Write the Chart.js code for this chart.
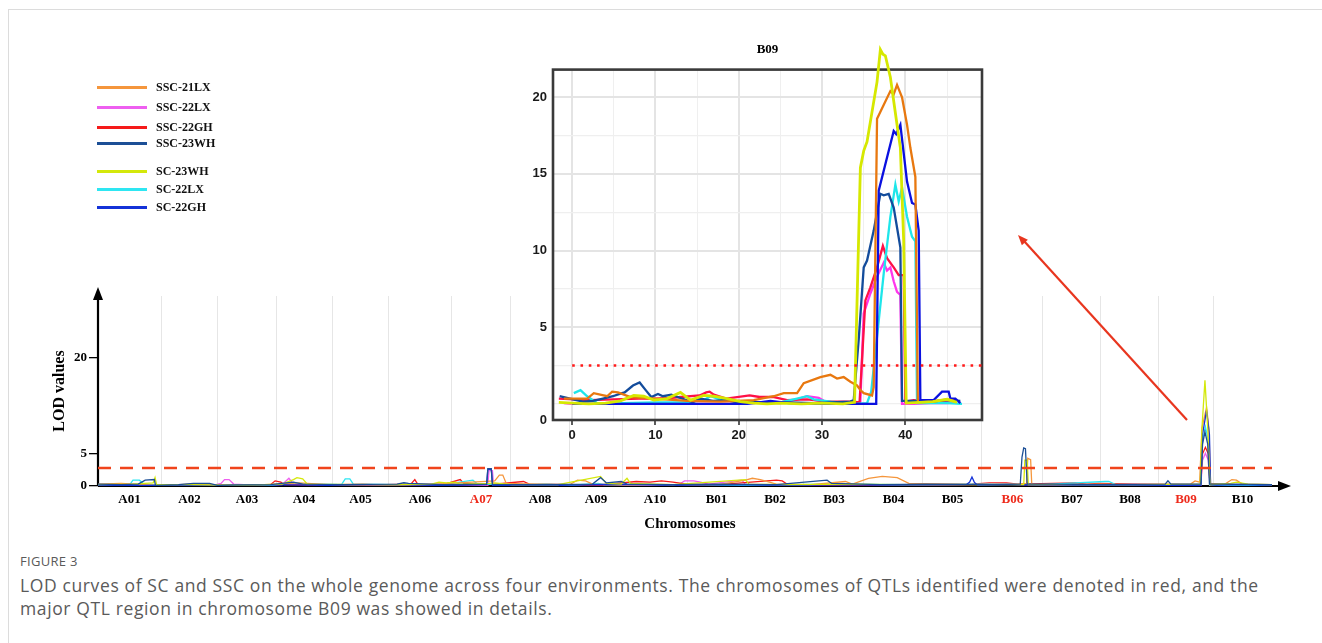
<!DOCTYPE html>
<html>
<head>
<meta charset="utf-8">
<script src="https://cdn.jsdelivr.net/npm/chart.js@4.4.1/dist/chart.umd.min.js"></script>
<style>
  html, body { margin: 0; padding: 0; background: #fff; }
  body { width: 1322px; height: 643px; position: relative; overflow: hidden; }
  #frame { position: absolute; left: 8px; top: 9px; width: 1330px; height: 650px;
           border-top: 1px solid #dcdcdc; border-left: 1px solid #dcdcdc; }
  #mainChart { position: absolute; left: 0; top: 0; }
  #insetChart { position: absolute; left: 520px; top: 30px; }
  #legend { position: absolute; left: 0; top: 0; font: bold 12px "Liberation Serif", "Times New Roman", serif; color: #111; }
  #legend .ln { position: absolute; left: 97px; width: 50px; height: 3px; }
  #legend .tx { position: absolute; left: 156px; transform: translateY(-50%); white-space: nowrap; }
  #caption { position: absolute; left: 20px; top: 550px; font-family: "Open Sans", sans-serif; color: #5a5a5a; }
  #caption .fig { font-size: 13px; letter-spacing: 0.3px; line-height: 22px; }
  #caption .txt { font-size: 17.5px; line-height: 23px; letter-spacing: 0.62px; margin-top: 2px; }
</style>
</head>
<body>
<div id="frame"></div>
<canvas id="mainChart" width="1322" height="545"></canvas>
<canvas id="insetChart" width="480" height="420"></canvas>
<div id="legend"></div>
<div id="caption">
  <div class="fig">FIGURE 3</div>
  <div class="txt">LOD curves of SC and SSC on the whole genome across four environments. The chromosomes of QTLs identified were denoted in red, and the<br>major QTL region in chromosome B09 was showed in details.</div>
</div>
<script>
// ---- data ----
const chromNames = ['A01','A02','A03','A04','A05','A06','A07','A08','A09','A10',
  'B01','B02','B03','B04','B05','B06','B07','B08','B09','B10'];
const chromLengths = [54.8, 49.5, 50.5, 48.7, 49.5, 54, 52.1, 50.5, 46.9, 55.7,
  51.3, 50.4, 52.2, 51.3, 51.3, 53, 50.5, 50.4, 47, 51.3];
const qtlChroms = ['A07', 'B06', 'B09'];
const seriesNames = ['SSC-21LX','SSC-22LX','SSC-22GH','SSC-23WH','SC-23WH','SC-22LX','SC-22GH'];
const mainYTicks = [0, 5, 20];
const mainThreshold = 2.8;
const insetThreshold = 2.5;
const insetYLabels = [5, 10, 15, 20];
const insetYGrid = [0, 2.5, 5, 7.5, 10, 12.5, 15, 17.5, 20];
const insetXGrid = [0, 5, 10, 15, 20, 25, 30, 35, 40, 45];
const insetXLabels = [0, 10, 20, 30, 40];

// whole genome LOD curves: [position (cM, cumulative), LOD]
const mainSSC21LX = [[0,0.3],[20,0.4],[40,0.2],[55,0.1],[80,0.3],[100,0.2],[130,0.1],[155,0.3],[175,0.5],[200,0.2],[230,0.3],[255,0.1],[285,0.2],[305,0.4],[325,0.6],[345,0.8],[349,1.7],[352,1.7],[355,0.4],[380,0.3],[410,0.2],[417,0.9],[424,0.8],[430,0.3],[456,0.2],[490,0.2],[512,0.1],[540,0.2],[563,0.9],[569,1.2],[576,1.0],[590,0.3],[620,0.2],[650,0.7],[656,0.3],[670,1.2],[682,1.5],[695,1.3],[705,0.4],[740,0.3],[768,0.2],[800,0.3],[807.5,0.4],[808.5,4.3],[811,4.1],[812,0.3],[840,0.2],[872,0.3],[900,0.2],[950,0.3],[954,0.8],[958,0.6],[960,9.0],[964,12.2],[966,9.0],[967.5,0.4],[980,0.3],[986,1.0],[990,0.9],[995,0.3],[1020.9,0.2]];
const mainSSC22LX = [[0,0.1],[30,0.2],[60,0.1],[100,0.1],[107,0.4],[110,1.0],[114,1.0],[118,0.3],[140,0.1],[160,0.2],[166,1.2],[170,0.3],[200,0.1],[250,0.1],[300,0.2],[339,0.1],[340,2.4],[343,2.4],[344,0.1],[380,0.1],[430,0.2],[480,0.1],[505,0.2],[510,0.8],[518,0.8],[524,0.6],[531,0.3],[545,0.6],[560,0.9],[563,0.2],[600,0.1],[650,0.2],[700,0.1],[760,0.2],[790,0.3],[800,0.2],[850,0.1],[900,0.1],[959,0.1],[960.5,4.0],[963,5.1],[965.5,4.0],[967,0.1],[1020.9,0.1]];
const mainSSC22GH = [[0,0.1],[30,0.2],[60,0.1],[100,0.2],[150,0.2],[154,0.8],[159,0.6],[162,0.2],[200,0.1],[250,0.2],[272,0.3],[275.5,1.0],[278,0.3],[300,0.2],[315,1.0],[318,0.4],[340,0.2],[370,0.7],[375,0.3],[410,0.2],[440,0.2],[468,0.7],[480,0.6],[490,0.8],[500,0.6],[512,0.3],[540,0.2],[590,0.9],[595,0.8],[600,0.2],[650,0.2],[700,0.2],[760,0.3],[775,0.5],[790,0.5],[800,0.3],[830,0.4],[850,0.5],[860,0.3],[870,0.4],[900,0.3],[959,0.2],[960.5,5.0],[963,6.0],[965.5,5.0],[967,0.2],[1020.9,0.2]];
const mainSSC23WH = [[0,0.3],[20,0.2],[35,0.3],[41,0.9],[49,1.0],[50,0.1],[70,0.2],[83,0.4],[97,0.4],[104,0.1],[150,0.2],[170,0.6],[178,0.3],[210,0.2],[260,0.3],[266,0.5],[270,0.4],[300,0.2],[338,0.3],[339,2.7],[342,2.7],[343,0.2],[380,0.2],[430,0.3],[437,1.3],[442,0.5],[455,0.7],[460,0.3],[500,0.2],[540,0.3],[590,0.2],[634,0.9],[638,0.4],[680,0.2],[720,0.3],[780,0.2],[802,0.3],[803.5,4.5],[805,5.9],[806.5,5.8],[808,0.3],[830,0.3],[870,0.2],[928,0.3],[930.4,0.8],[933,0.3],[959,0.3],[960.5,6.5],[962.6,8.4],[965,6.5],[966.5,0.3],[990,0.3],[1020.9,0.2]];
const mainSC23WH = [[0,0.2],[30,0.3],[48,0.5],[49.6,1.3],[51,0.2],[80,0.2],[120,0.1],[160,0.3],[170,1.0],[173,1.3],[178,1.1],[182,0.3],[220,0.2],[260,0.2],[290,0.3],[296.5,0.6],[303,0.5],[310,0.6],[315,0.3],[340,0.4],[345,0.5],[360,0.2],[400,0.2],[437,1.5],[442,0.4],[455,0.3],[460,1.2],[463,0.4],[500,0.2],[563,1.0],[566,0.3],[600,0.2],[650,0.3],[700,0.2],[760,0.2],[805,0.2],[806,4.0],[808,4.0],[809,0.2],[850,0.2],[900,0.2],[958.5,0.3],[960,9.0],[962.6,16.4],[965,9.0],[967,0.2],[985,0.4],[990,0.6],[1000,0.3],[1020.9,0.2]];
const mainSC22LX = [[0,0.2],[28,0.3],[30.4,0.9],[36,0.9],[40,0.3],[60,0.1],[100,0.2],[150,0.1],[170,0.5],[190,0.2],[212,0.3],[215,1.1],[219,1.1],[222,0.3],[260,0.2],[300,0.2],[326,0.9],[330,0.3],[360,0.2],[390,0.3],[410,0.1],[435,0.4],[440,0.2],[500,0.2],[560,0.1],[600,0.2],[640,0.3],[700,0.2],[760,0.3],[790,0.3],[820,0.2],[875.7,0.7],[879,0.7],[885,0.2],[930,0.2],[959,0.2],[960.5,7.0],[963,9.2],[965.5,7.0],[967,0.1],[1020.9,0.1]];
const mainSC22GH = [[0,0.1],[50,0.1],[100,0.1],[150,0.2],[200,0.1],[250,0.2],[300,0.1],[338,0.2],[339,2.6],[342,2.6],[343,0.1],[400,0.1],[450,0.3],[500,0.1],[550,0.2],[600,0.1],[650,0.2],[700,0.1],[755,0.2],[758,0.6],[760,1.4],[762,0.6],[765,0.1],[800,0.2],[850,0.1],[900,0.1],[959,0.1],[960.5,8.0],[964,11.7],[966.5,8.0],[967.5,0.1],[990,0.2],[1020.9,0.1]];

// chromosome B09 detail: [position (cM), LOD]
const b09SSC21LX = [[-1,0.35],[1.8,0.35],[2.6,0.7],[4.2,0.5],[4.8,0.8],[5.5,0.75],[7,0.45],[9.8,0.35],[13.8,0.2],[17.8,0.15],[21.8,0.25],[24.2,0.5],[25.4,0.7],[27,0.7],[27.8,1.35],[29.8,1.75],[31,1.9],[31.8,1.65],[32.6,1.75],[33.4,1.45],[34.2,1.2],[34.6,0.9],[35,0.7],[36,0.55],[36.2,1.1],[36.6,18.6],[38.2,20.4],[38.6,20.2],[39,20.8],[39.6,20.0],[40.2,18.2],[40.6,16.7],[41.2,14.8],[41.5,0.1],[43.3,0.15],[45,0.3],[45.8,0.2]];
const b09SSC22LX = [[-1,0.05],[0,0],[5,0],[10,0],[15,0],[20,0],[22,0.1],[25,0.05],[27,0.3],[28.2,0.5],[29.6,0.4],[30.2,0.2],[32,0.05],[34.2,0],[34.6,0.15],[35,5.9],[35.8,7.2],[36.6,8.3],[37.4,9.2],[37.8,8.7],[38.2,8.9],[38.6,8.0],[39,7.3],[39.4,7.1],[39.6,0],[41,0],[43,0.05],[45,0.05],[46,0.1]];
const b09SSC22GH = [[-1.6,0.35],[2,0.25],[5,0.3],[8,0.35],[10,0.35],[12,0.4],[15.3,0.55],[16.1,0.75],[16.5,0.8],[17,0.6],[18.5,0.35],[21.3,0.55],[22.5,0.45],[24.1,0.45],[25.8,0.25],[28.2,0.3],[30.6,0.15],[33.7,0.15],[34.5,0.1],[34.8,2.9],[35.2,6.75],[35.8,7.6],[36.6,8.9],[37.3,10.3],[37.8,9.5],[38.6,8.9],[39.2,8.4],[39.8,8.4],[40,0.15],[41,0.25],[42,0.2],[44,0.2],[46,0.25]];
const b09SSC23WH = [[-1.5,0.5],[0.1,0.3],[1.3,0.15],[2.5,0.2],[3.7,0.35],[4.9,0.5],[5.7,0.65],[6.3,0.75],[7.3,1.2],[8.1,1.4],[8.9,0.85],[9.5,0.45],[10.3,0.65],[10.9,0.5],[11.9,0.6],[12.9,0.4],[14.5,0.1],[15.3,0.35],[16.9,0.2],[18.5,0.25],[20.1,0.05],[21.7,0.15],[23.3,0.05],[26,0.1],[29,0.05],[31,0.1],[33.4,0.15],[33.8,0.25],[34.4,4.2],[35,8.9],[35.4,9.35],[36.2,11.3],[37,13.7],[37.4,13.6],[38,13.7],[38.6,12.8],[39,11.5],[39.4,10.2],[39.6,0.2],[41,0.2],[43,0.15],[45,0.25],[46.6,0.2]];
const b09SC23WH = [[-1.6,0.1],[0,0.05],[2,0],[4,0.05],[5.8,0.2],[7.4,0.55],[8.6,0.5],[9.8,0.25],[11.4,0.35],[13,0.75],[14.2,0.25],[15.8,0.55],[17,0.5],[18.6,0.35],[20.2,0.15],[21.8,0.05],[23.4,0],[25,0.05],[27.5,0],[30,0.05],[32.5,0],[33.9,0.1],[34.6,15.4],[35,16.5],[35.4,17.1],[36.6,21.0],[37,23.1],[37.3,22.8],[37.6,22.7],[38.2,21.3],[39,18.2],[39.4,16.7],[39.8,10.6],[40.1,0.05],[41.7,0.1],[43.3,0.15],[45,0.3],[46.2,0.1]];
const b09SC22LX = [[0.2,0.7],[1,0.9],[1.8,0.5],[3,0.05],[6,0.05],[10,0.1],[14,0.1],[16,0.3],[16.6,0.5],[18,0.25],[22,0.1],[25,0.1],[27,0.35],[28.2,0.5],[29,0.3],[31,0.15],[34,0],[35.4,0.05],[35.9,0.8],[37.4,8.5],[38.2,12.2],[38.8,14.3],[39.2,13.2],[39.6,14.1],[40.2,12.2],[40.8,10.9],[41.2,10.6],[41.4,0.05],[43,0.05],[45,0.05],[46.8,0]];
const b09SC22GH = [[0,0],[5,0],[10,0],[15,0],[21,0],[21.8,0.05],[23.8,0.2],[26,0.05],[30,0],[34,0],[36.5,0],[36.8,13.9],[38.6,17.8],[38.9,17.6],[39.4,18.2],[40.2,14.5],[40.8,13.1],[41.2,13.0],[41.6,11.3],[41.8,0.25],[43.4,0.25],[44.4,0.8],[45.2,0.8],[45.4,0.35],[46,0.35],[46.6,0.05]];

// ---- styling ----
const legendColors = ['#f5963c','#ee5ff0','#f51a1a','#1c4f96','#d4e80a','#2ee6f2','#1432d8'];
const insetColors = ['#e8780f','#ff35ec','#ff1046','#134c9c','#d6e800','#1ee6ea','#0a10e0'];
const legendY = [87, 107, 127, 143, 171, 189, 207];
const serif = '"Liberation Serif", "Times New Roman", serif';
const sans = '"Liberation Sans", Arial, sans-serif';

// legend (html)
const legendDiv = document.getElementById('legend');
seriesNames.forEach((name, i) => {
  const ln = document.createElement('div');
  ln.className = 'ln';
  ln.style.top = (legendY[i] - 1.5) + 'px';
  ln.style.background = legendColors[i];
  legendDiv.appendChild(ln);
  const tx = document.createElement('div');
  tx.className = 'tx';
  tx.style.top = legendY[i] + 'px';
  tx.textContent = name;
  legendDiv.appendChild(tx);
});

const toXY = arr => arr.map(([x, y]) => ({ x, y }));

// chromosome boundaries and centres
const starts = [];
let acc = 0;
chromLengths.forEach(l => { starts.push(acc); acc += l; });
const genomeEnd = acc;
const boundaries = starts.slice(1);
const centres = starts.map((s, i) => s + chromLengths[i] / 2);

// ---- main chart ----
const mainSeries = [mainSSC21LX, mainSSC22LX, mainSSC22GH, mainSSC23WH, mainSC23WH, mainSC22LX, mainSC22GH];
const mainDrawOrder = [3, 4, 6, 0, 5, 2, 1];

const mainDatasets = [{
  label: 'threshold',
  data: [{ x: 0, y: mainThreshold }, { x: genomeEnd, y: mainThreshold }],
  borderColor: '#f0441c', borderWidth: 2.5, borderDash: [13, 9], pointRadius: 0
}];
mainDrawOrder.forEach(i => {
  mainDatasets.push({
    label: seriesNames[i], data: toXY(mainSeries[i]),
    borderColor: legendColors[i], borderWidth: 1.3, pointRadius: 0, tension: 0
  });
});

const mainDecor = {
  id: 'mainDecor',
  beforeDatasetsDraw(chart) {
    const { ctx, chartArea: a } = chart;
    ctx.save();
    ctx.strokeStyle = '#000';
    ctx.fillStyle = '#000';
    ctx.lineWidth = 2.2;
    ctx.beginPath();
    ctx.moveTo(a.left, a.bottom); ctx.lineTo(a.left, a.top);
    ctx.moveTo(a.left, a.bottom); ctx.lineTo(a.right, a.bottom);
    ctx.stroke();
    ctx.beginPath();
    ctx.moveTo(a.left, a.top - 9); ctx.lineTo(a.left - 5, a.top + 4); ctx.lineTo(a.left + 5, a.top + 4);
    ctx.closePath(); ctx.fill();
    ctx.beginPath();
    ctx.moveTo(a.right + 9, a.bottom); ctx.lineTo(a.right - 4, a.bottom - 5); ctx.lineTo(a.right - 4, a.bottom + 5);
    ctx.closePath(); ctx.fill();
    ctx.restore();
  },
  afterDraw(chart) {
    // pointer from the B09 peak to the detail panel
    const ctx = chart.ctx;
    ctx.save();
    ctx.strokeStyle = '#e8361f';
    ctx.fillStyle = '#e8361f';
    ctx.lineWidth = 2.2;
    ctx.beginPath();
    ctx.moveTo(1187, 420); ctx.lineTo(1024, 241);
    ctx.stroke();
    const ang = Math.atan2(241 - 420, 1024 - 1187);
    ctx.beginPath();
    ctx.moveTo(1018, 235);
    ctx.lineTo(1018 - 11 * Math.cos(ang - 0.38), 235 - 11 * Math.sin(ang - 0.38));
    ctx.lineTo(1018 - 11 * Math.cos(ang + 0.38), 235 - 11 * Math.sin(ang + 0.38));
    ctx.closePath(); ctx.fill();
    ctx.restore();
  }
};

new Chart(document.getElementById('mainChart'), {
  type: 'line',
  data: { datasets: mainDatasets },
  options: {
    responsive: false, animation: false, devicePixelRatio: 1,
    layout: { padding: { top: 296, right: 40, left: 0, bottom: 0 } },
    plugins: { legend: { display: false }, tooltip: { enabled: false } },
    scales: {
      x: {
        type: 'linear', position: 'bottom', min: 0, max: 1029.6, weight: 0,
        afterBuildTicks: s => { s.ticks = boundaries.map(v => ({ value: v })); },
        afterFit: s => { s.height = 0; },
        ticks: { display: false },
        grid: { color: '#e6e6e6', lineWidth: 1, drawTicks: false },
        border: { display: false }
      },
      xl: {
        type: 'linear', position: 'bottom', min: 0, max: 1029.6, weight: 1,
        afterBuildTicks: s => { s.ticks = centres.map(v => ({ value: v })); },
        afterFit: s => { s.height = 59; },
        grid: { display: false, drawTicks: false },
        border: { display: false },
        ticks: {
          autoSkip: false, maxRotation: 0, padding: 6,
          font: { family: serif, size: 13, weight: 'bold' },
          color: c => qtlChroms.includes(chromNames[c.index]) ? '#ee2a1b' : '#000',
          callback: (v, i) => chromNames[i]
        },
        title: {
          display: true, text: 'Chromosomes', color: '#000',
          font: { family: serif, size: 15, weight: 'bold' },
          padding: { top: 0, bottom: 12 }
        }
      },
      y: {
        type: 'linear', min: 0, max: 29.5,
        afterBuildTicks: s => { s.ticks = mainYTicks.map(v => ({ value: v })); },
        afterFit: s => { s.width = 98; },
        grid: { drawOnChartArea: false, drawTicks: true, tickLength: 9, color: '#000', lineWidth: 1.3 },
        border: { display: false },
        ticks: { padding: 2, color: '#000', font: { family: serif, size: 13, weight: 'bold' } },
        title: {
          display: true, text: 'LOD values', color: '#000',
          font: { family: serif, size: 16, weight: 'bold' },
          padding: { top: 50, bottom: 0 }
        }
      }
    }
  },
  plugins: [mainDecor]
});

// ---- B09 detail chart ----
const insetSeries = [b09SSC21LX, b09SSC22LX, b09SSC22GH, b09SSC23WH, b09SC23WH, b09SC22LX, b09SC22GH];
const insetDrawOrder = [4, 0, 6, 3, 5, 2, 1];
const insetYMin = -1.05;

const insetDatasets = [{
  label: 'threshold',
  data: [{ x: 0, y: insetThreshold }, { x: 49.2, y: insetThreshold }],
  borderColor: '#ff1a1a', borderWidth: 2.6, borderDash: [2.6, 5.7], pointRadius: 0
}];
insetDrawOrder.forEach(i => {
  insetDatasets.push({
    label: seriesNames[i], data: toXY(insetSeries[i]),
    borderColor: insetColors[i], borderWidth: i === 4 ? 2.8 : 2.3,
    pointRadius: 0, tension: 0, clip: false
  });
});

const insetFrame = {
  id: 'insetFrame',
  beforeDraw(chart) {
    const { ctx, chartArea: a } = chart;
    ctx.save();
    ctx.fillStyle = '#fff';
    ctx.fillRect(a.left, a.top, a.right - a.left, a.bottom - a.top);
    ctx.restore();
  },
  beforeDatasetsDraw(chart) {
    const { ctx, chartArea: a } = chart;
    ctx.save();
    ctx.strokeStyle = '#3a3a3a';
    ctx.lineWidth = 2.6;
    ctx.strokeRect(a.left, a.top, a.right - a.left, a.bottom - a.top);
    ctx.restore();
  }
};

new Chart(document.getElementById('insetChart'), {
  type: 'line',
  data: { datasets: insetDatasets },
  options: {
    responsive: false, animation: false, devicePixelRatio: 1,
    layout: { padding: { top: 0, right: 18, left: 0, bottom: 0 } },
    plugins: {
      legend: { display: false }, tooltip: { enabled: false },
      title: {
        display: true, text: 'B09', fullSize: false, color: '#000',
        font: { family: serif, size: 13, weight: 'bold' },
        padding: { top: 12, bottom: 12 }
      }
    },
    scales: {
      x: {
        type: 'linear', min: -2.3, max: 49.2,
        afterBuildTicks: s => { s.ticks = insetXGrid.map(v => ({ value: v })); },
        afterFit: s => { s.height = 30; },
        border: { display: false },
        grid: {
          color: c => c.tick.value % 10 === 0 ? '#e4e4e4' : '#efefef',
          lineWidth: c => c.tick.value % 10 === 0 ? 2 : 1,
          tickColor: c => c.tick.value % 10 === 0 ? '#333' : 'rgba(0,0,0,0)',
          tickWidth: 1.6, tickLength: 5, drawTicks: true
        },
        ticks: {
          autoSkip: false, maxRotation: 0, padding: 3, color: '#1a1a1a',
          font: { family: sans, size: 13, weight: 'bold' },
          callback: v => insetXLabels.includes(v) ? String(v) : ''
        }
      },
      y: {
        type: 'linear', min: insetYMin, max: 21.8,
        afterBuildTicks: s => { s.ticks = [insetYMin, ...insetYGrid].map(v => ({ value: v })); },
        afterFit: s => { s.width = 33; },
        border: { display: false },
        grid: {
          color: c => (c.tick.value > 0 && c.tick.value % 5 === 0) ? '#e4e4e4' : '#efefef',
          lineWidth: c => (c.tick.value > 0 && c.tick.value % 5 === 0) ? 2 : 1.3,
          drawTicks: false
        },
        ticks: {
          autoSkip: false, padding: 6, color: '#1a1a1a',
          font: { family: sans, size: 13, weight: 'bold' },
          callback: v => v === insetYMin ? '0' : (insetYLabels.includes(v) ? String(v) : '')
        }
      }
    }
  },
  plugins: [insetFrame]
});
</script>
</body>
</html>
